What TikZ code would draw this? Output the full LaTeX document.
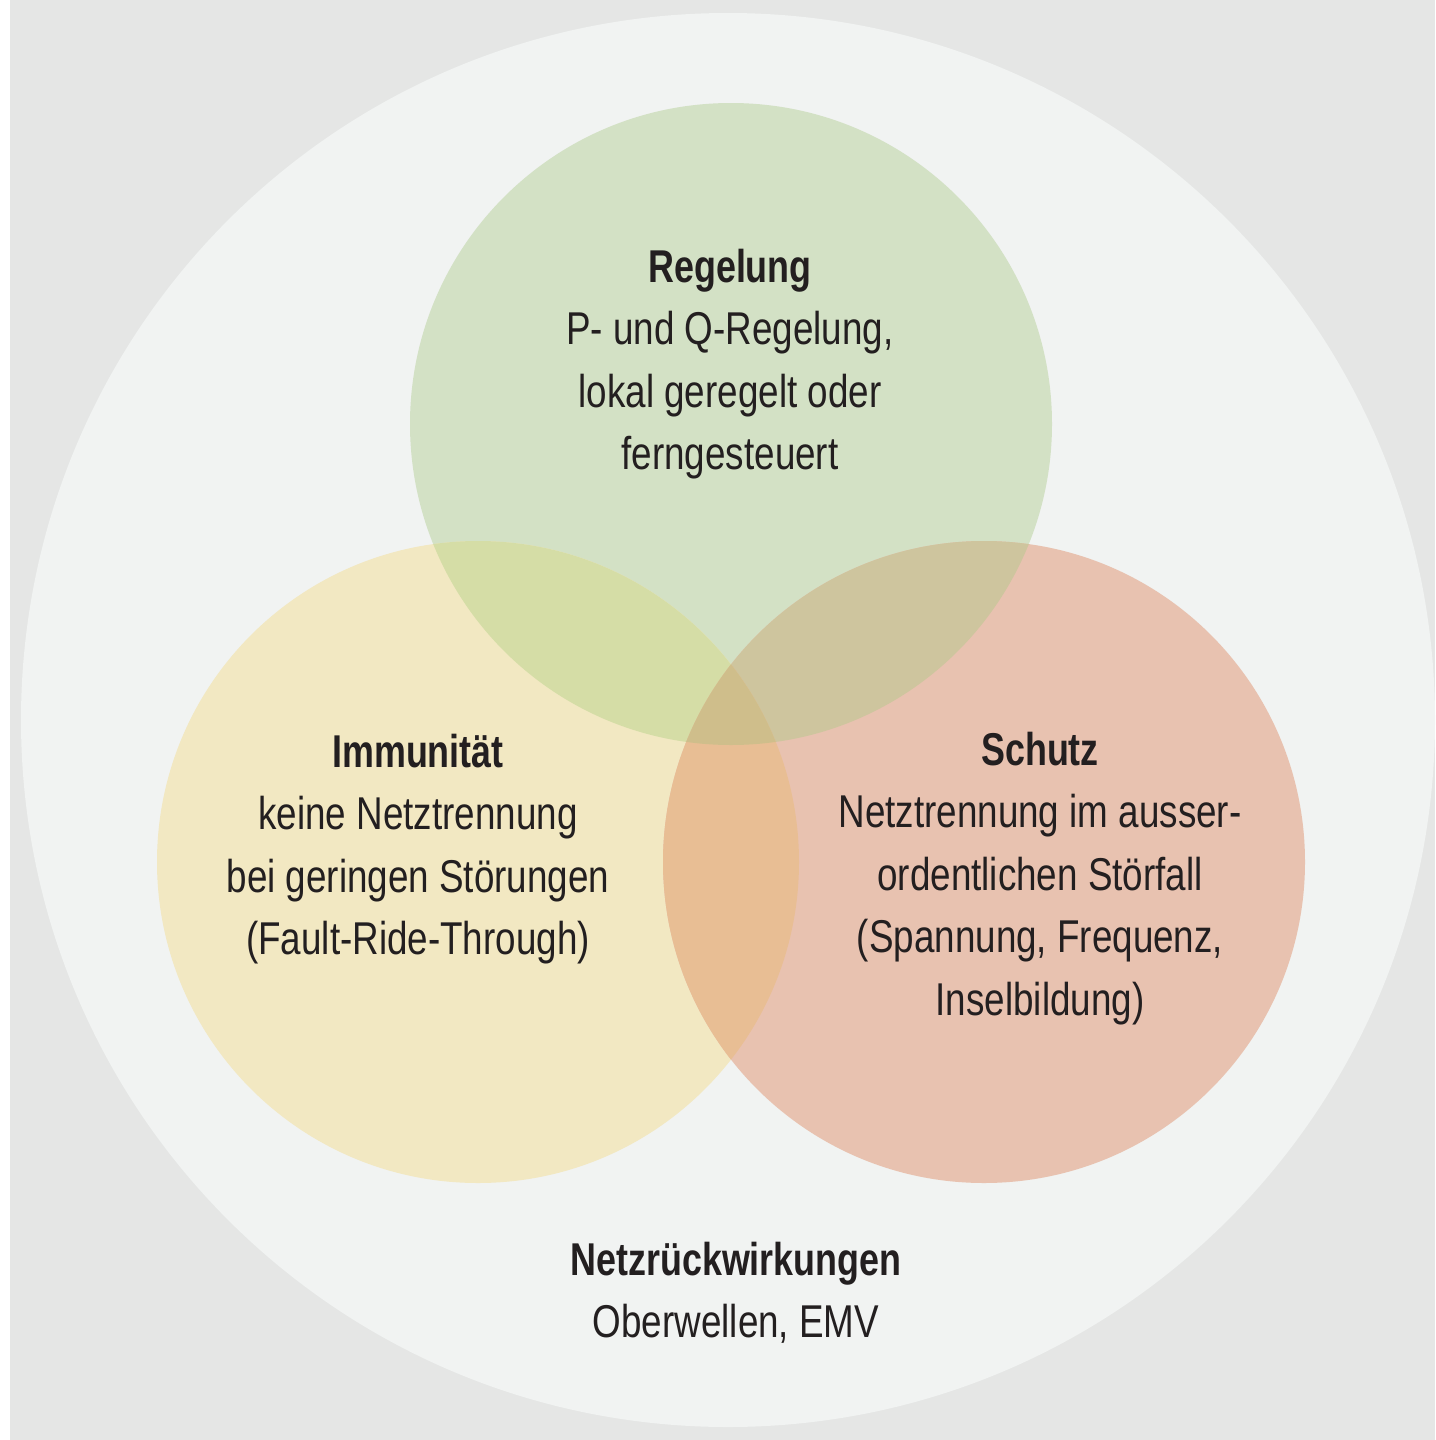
\documentclass[tikz,border=0pt]{standalone}
\usepackage{fontspec}
\newfontfamily\dfont[FakeStretch=0.8,BoldFeatures={FakeStretch=0.78}]{Liberation Sans}
\definecolor{bgc}{HTML}{E5E6E5}
\definecolor{bigc}{HTML}{F1F3F2}
\definecolor{grc}{HTML}{D3E1C5}
\definecolor{yec}{HTML}{F2E8C2}
\definecolor{rec}{HTML}{E8C2B0}
\definecolor{gyc}{HTML}{D5DDA6}
\definecolor{grrc}{HTML}{CEC59E}
\definecolor{yrc}{HTML}{E8BE94}
\definecolor{gyrc}{HTML}{CFBE8B}
\definecolor{txt}{HTML}{231F20}
\tikzset{
  lbl/.style={anchor=base, align=center, text=txt, inner sep=0pt,
    font=\dfont\fontsize{46}{62.5}\selectfont},
}
\newcommand{\hd}[1]{{\bfseries #1}}
\begin{document}
\begin{tikzpicture}[x=1pt,y=-1pt]
\useasboundingbox (0,0) rectangle (1435,1440);
\fill[white] (0,0) rectangle (1435,1440);
\fill[bgc] (10,0) rectangle (1435,1440);
\begin{scope}
\clip (10,0) rectangle (1435,1440);
\fill[bigc] (728,720) circle (707);
\end{scope}
% circles
\fill[grc] (731,424) circle (321);
\fill[yec] (478,862) circle (321);
\fill[rec] (984,862) circle (321);
\begin{scope}
\clip (731,424) circle (321);
\fill[gyc] (478,862) circle (321);
\fill[grrc] (984,862) circle (321);
\end{scope}
\begin{scope}
\clip (478,862) circle (321);
\fill[yrc] (984,862) circle (321);
\clip (984,862) circle (321);
\fill[gyrc] (731,424) circle (321);
\end{scope}
% texts (anchor = baseline of last line)
\node[lbl] (reg) at (730,469.5) {\hd{Regelung}\\P- und Q-Regelung,\\lokal geregelt oder\\ferngesteuert};
\node[lbl] (imm) at (418,954.5) {\hd{Immunität}\\keine Netztrennung\\bei geringen Störungen\\(Fault-Ride-Through)};
\node[lbl] (sch) at (1040,1015) {\hd{Schutz}\\Netztrennung im ausser-\\ordentlichen Störfall\\(Spannung, Frequenz,\\Inselbildung)};
\node[lbl] (net) at (736,1337.5) {\hd{Netzrückwirkungen}\\Oberwellen, EMV};
\end{tikzpicture}
\end{document}
